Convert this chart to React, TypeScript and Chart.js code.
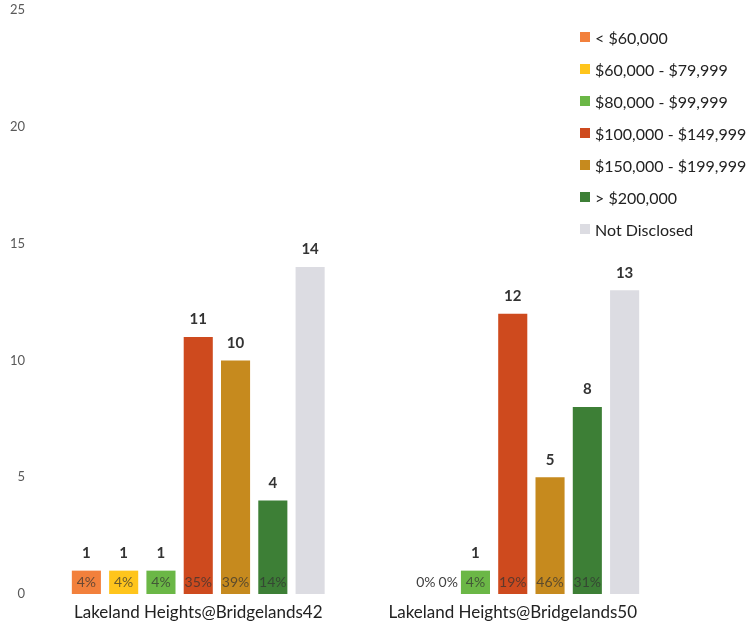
import React, { useEffect, useRef } from "react";
import { Chart, registerables } from "chart.js";

Chart.register(...registerables);

const categories = ["Lakeland Heights@Bridgelands42", "Lakeland Heights@Bridgelands50"];
const seriesNames = [
  "< $60,000",
  "$60,000 - $79,999",
  "$80,000 - $99,999",
  "$100,000 - $149,999",
  "$150,000 - $199,999",
  "> $200,000",
  "Not Disclosed",
];
const seriesColors = ["#F2803C", "#FFC51C", "#6BB746", "#CE4A1E", "#C68A1E", "#3D7F36", "#DCDCE2"];
const lt60k = [1, 0];
const k60to80 = [1, 0];
const k80to100 = [1, 1];
const k100to150 = [11, 12];
const k150to200 = [10, 5];
const gt200k = [4, 8];
const notDisclosed = [14, 13];
const seriesValues = [lt60k, k60to80, k80to100, k100to150, k150to200, gt200k, notDisclosed];
const pctLt60k = ["4%", "0%"];
const pct60to80 = ["4%", "0%"];
const pct80to100 = ["4%", "4%"];
const pct100to150 = ["35%", "19%"];
const pct150to200 = ["39%", "46%"];
const pctGt200k = ["14%", "31%"];
const pctNotDisclosed = ["", ""];
const seriesPercents = [pctLt60k, pct60to80, pct80to100, pct100to150, pct150to200, pctGt200k, pctNotDisclosed];
const yTicks = [0, 5, 10, 15, 20, 25];

const FONT = "Lato, 'Open Sans', sans-serif";

const labelPlugin = {
  id: "barLabels",
  afterDatasetsDraw(chart: any) {
    const ctx = chart.ctx;
    const base = chart.scales.y.getPixelForValue(0);
    const n = chart.data.datasets.length;
    const cats = chart.data.labels.length;
    for (let i = 0; i < cats; i++) {
      // zero-value labels are packed leftwards from the first non-zero bar
      let firstNonZero = -1;
      for (let di = 0; di < n; di++) {
        if (chart.data.datasets[di].data[i] > 0) { firstNonZero = di; break; }
      }
      ctx.save();
      ctx.font = `14px ${FONT}`;
      ctx.textBaseline = "middle";
      if (firstNonZero > 0) {
        const fb = chart.getDatasetMeta(firstNonZero).data[i];
        let xr = fb.x - fb.width / 2 - 3;
        ctx.textAlign = "right";
        ctx.fillStyle = "#404040";
        for (let di = firstNonZero - 1; di >= 0; di--) {
          const p = seriesPercents[di][i];
          if (!p) continue;
          ctx.fillText(p, xr, base - 12);
          xr -= ctx.measureText(p).width + 3;
        }
      }
      ctx.restore();
      for (let di = 0; di < n; di++) {
        const v = chart.data.datasets[di].data[i];
        if (!(v > 0)) continue;
        const bar = chart.getDatasetMeta(di).data[i];
        ctx.save();
        ctx.textAlign = "center";
        ctx.font = `bold 15px ${FONT}`;
        ctx.fillStyle = "#333333";
        ctx.textBaseline = "bottom";
        ctx.fillText(String(v), bar.x, bar.y - 10);
        const p = seriesPercents[di][i];
        if (p) {
          ctx.font = `14px ${FONT}`;
          ctx.fillStyle = "rgba(50,50,50,0.72)";
          ctx.textBaseline = "middle";
          ctx.fillText(p, bar.x, base - 12);
        }
        ctx.restore();
      }
    }
  },
};

export default function App() {
  const ref = useRef<HTMLCanvasElement>(null);
  useEffect(() => {
    const chart = new Chart(ref.current!, {
      type: "bar",
      data: {
        labels: categories,
        datasets: seriesNames.map((name, i) => ({
          label: name,
          data: seriesValues[i],
          backgroundColor: seriesColors[i],
          barPercentage: 0.78,
          categoryPercentage: 0.83,
        })),
      },
      options: {
        animation: false,
        responsive: false,
        maintainAspectRatio: false,
        layout: { padding: { left: 0, right: 76, top: 10, bottom: 0 } },
        plugins: { legend: { display: false }, tooltip: { enabled: false } },
        scales: {
          x: {
            grid: { display: false, drawTicks: false },
            border: { display: false },
            ticks: { color: "#222222", font: { family: FONT, size: 17 }, padding: 8, maxRotation: 0 },
            afterFit: (s: any) => {
              s.height = 32;
              s.paddingLeft = 0;
              s.paddingRight = 0;
            },
          },
          y: {
            min: 0,
            max: 25,
            afterBuildTicks: (axis: any) => {
              axis.ticks = yTicks.map((v) => ({ value: v }));
            },
            grid: { display: false, drawTicks: false },
            border: { display: false },
            ticks: { color: "#595959", font: { family: FONT, size: 13 }, padding: 16 },
            afterFit: (s: any) => {
              s.width = 41;
              s.paddingTop = 0;
              s.paddingBottom = 0;
            },
          },
        },
      },
      plugins: [labelPlugin],
    });
    return () => chart.destroy();
  }, []);

  return (
    <div style={{ position: "fixed", left: 0, top: 0, width: 746, height: 626, background: "#fff", overflow: "hidden" }}>
      <canvas ref={ref} width={746} height={626} style={{ display: "block" }} />
      <div style={{ position: "absolute", left: 580, top: 21, fontFamily: FONT, fontSize: 16, color: "#222", whiteSpace: "nowrap" }}>
        {seriesNames.map((n, i) => (
          <div key={n} style={{ display: "flex", alignItems: "center", height: 32 }}>
            <span style={{ width: 10, height: 10, background: seriesColors[i], marginRight: 5, display: "inline-block", flex: "none" }} />
            <span>{n}</span>
          </div>
        ))}
      </div>
    </div>
  );
}
